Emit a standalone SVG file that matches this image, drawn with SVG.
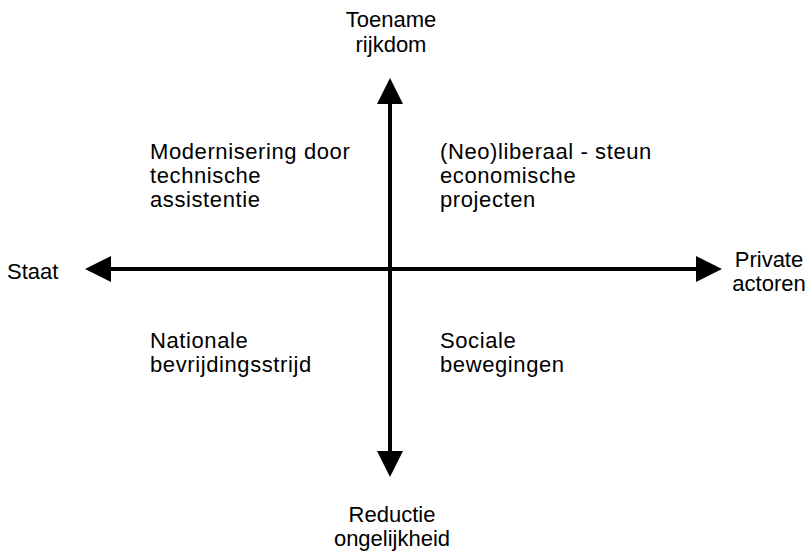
<svg xmlns="http://www.w3.org/2000/svg" width="810" height="555" viewBox="0 0 810 555">
<style>
text{font-family:"Liberation Sans",Arial,sans-serif;font-size:22px;fill:#000}
.c{text-anchor:middle}
.q text{letter-spacing:0.6px}
.ax{stroke:#000;stroke-width:4;fill:none}
.ah{fill:#000}
</style>
<rect width="810" height="555" fill="#fff"/>
<g id="connectors">
<line class="ax" x1="390" y1="100" x2="390" y2="452"/>
<line class="ax" x1="108" y1="269" x2="700" y2="269"/>
<polygon class="ah" points="390,78 377,104 403,104"/>
<polygon class="ah" points="390,477 377,451 403,451"/>
<polygon class="ah" points="85,269 111,256 111,282"/>
<polygon class="ah" points="722,269 696,256 696,282"/>
</g>
<g id="top"><text class="c" x="391" y="27">Toename</text><text class="c" x="391" y="52">rijkdom</text></g>
<g id="bottom"><text class="c" x="392" y="522">Reductie</text><text class="c" x="392" y="546">ongelijkheid</text></g>
<g id="left"><text x="7" y="279">Staat</text></g>
<g id="right"><text class="c" x="769" y="267">Private</text><text class="c" x="769" y="291">actoren</text></g>
<g id="q1" class="q"><text x="150" y="159">Modernisering door</text><text x="150" y="183">technische</text><text x="150" y="207">assistentie</text></g>
<g id="q2" class="q"><text x="440" y="159">(Neo)liberaal - steun</text><text x="440" y="183">economische</text><text x="440" y="207">projecten</text></g>
<g id="q3" class="q"><text x="150" y="348">Nationale</text><text x="150" y="372">bevrijdingsstrijd</text></g>
<g id="q4" class="q"><text x="440" y="348">Sociale</text><text x="440" y="372">bewegingen</text></g>
</svg>
